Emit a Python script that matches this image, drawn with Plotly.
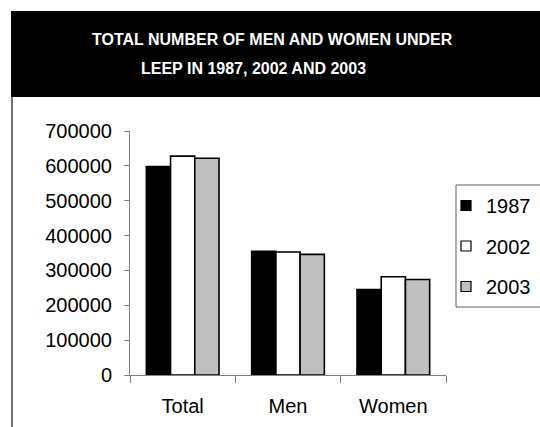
import plotly.graph_objects as go

# Participants by group and year
categories = ["Total", "Men", "Women"]
years = ["1987", "2002", "2003"]
values_1987 = [598000, 355000, 245000]
values_2002 = [628000, 353000, 282000]
values_2003 = [622000, 346000, 274000]
y_ticks = [0, 100000, 200000, 300000, 400000, 500000, 600000, 700000]

series = [values_1987, values_2002, values_2003]
fills = ["#000000", "#FFFFFF", "#C0C0C0"]

W, H = 540, 427
L, R, T, B = 130, 94, 131, 52
pw, ph = W - L - R, H - T - B

def px_x(x):
    return (x - L) / pw

def px_y(y):
    return (H - B - y) / ph

fig = go.Figure()
for name, vals, col in zip(years, series, fills):
    fig.add_trace(go.Bar(
        x=categories, y=vals, name=name, legendgroup=name, showlegend=False,
        marker=dict(color=col, line=dict(color="#000000", width=1.6)),
    ))
# small square legend keys
for name, col in zip(years, fills):
    fig.add_trace(go.Scatter(
        x=[None], y=[None], mode="markers", name=name, legendgroup=name,
        marker=dict(symbol="square", size=10, color=col,
                    line=dict(color="#000000", width=1.2)),
    ))

title_font = dict(family="Liberation Sans, Arial, sans-serif", size=16, color="#FFFFFF")

fig.update_layout(
    width=W, height=H,
    margin=dict(l=L, r=R, t=T, b=B, autoexpand=False),
    paper_bgcolor="#FFFFFF", plot_bgcolor="#FFFFFF",
    barmode="group", bargap=0.31, bargroupgap=0,
    font=dict(family="Liberation Sans, Arial, sans-serif", size=20, color="#000000"),
    showlegend=True,
    legend=dict(
        x=px_x(446), y=px_y(186), xanchor="left", yanchor="top",
        bgcolor="rgba(0,0,0,0)", borderwidth=0,
        font=dict(size=20), tracegroupgap=11.5, itemsizing="trace",
    ),
    xaxis=dict(
        showline=True, linecolor="#808080", linewidth=1,
        ticks="outside", tickson="boundaries", ticklen=7, tickcolor="#808080",
        showgrid=False, zeroline=False, fixedrange=True,
        ticklabelstandoff=13,
    ),
    yaxis=dict(
        range=[0, 700000], tickvals=y_ticks, ticktext=[str(v) for v in y_ticks],
        showline=True, linecolor="#808080", linewidth=1,
        ticks="outside", ticklen=5, tickcolor="#808080",
        showgrid=False, zeroline=False, fixedrange=True,
        ticklabelstandoff=8,
    ),
    shapes=[
        # title band
        dict(type="rect", xref="paper", yref="paper",
             x0=px_x(11), x1=px_x(545), y0=px_y(97), y1=px_y(11),
             fillcolor="#000000", line=dict(width=0), layer="above"),
        # chart frame, left edge
        dict(type="line", xref="paper", yref="paper",
             x0=px_x(12), x1=px_x(12), y0=px_y(97), y1=px_y(430),
             line=dict(color="#404040", width=1.5)),
        # legend box
        dict(type="rect", xref="paper", yref="paper",
             x0=px_x(456), x1=px_x(560), y0=px_y(307), y1=px_y(185),
             fillcolor="rgba(0,0,0,0)", line=dict(color="#606060", width=1)),
    ],
    annotations=[
        dict(text="<b>TOTAL NUMBER OF MEN AND WOMEN UNDER</b>",
             xref="paper", yref="paper", x=px_x(272), y=px_y(39),
             xanchor="center", yanchor="middle", showarrow=False,
             font=title_font),
        dict(text="<b>LEEP IN 1987, 2002 AND 2003</b>",
             xref="paper", yref="paper", x=px_x(253), y=px_y(68.5),
             xanchor="center", yanchor="middle", showarrow=False,
             font=title_font),
    ],
)

fig.write_html("out.html", config={"displayModeBar": False})
